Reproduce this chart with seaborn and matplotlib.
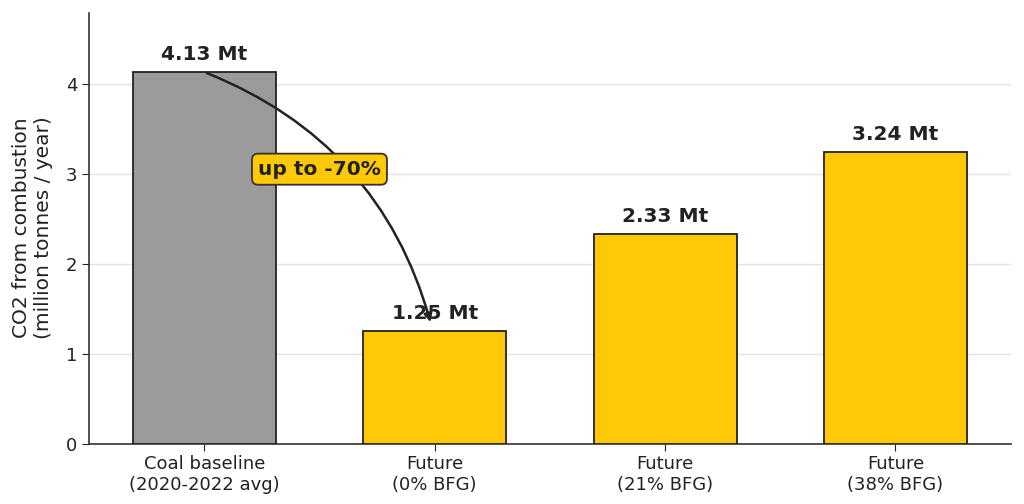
import matplotlib
matplotlib.use("Agg")
import matplotlib.pyplot as plt
import seaborn as sns
import pandas as pd

# scenario data
scenarios = ["Coal baseline\n(2020-2022 avg)", "Future\n(0% BFG)", "Future\n(21% BFG)", "Future\n(38% BFG)"]
co2_mt = [4.13, 1.25, 2.33, 3.24]
bar_colors = ["#9b9b9b", "#ffc907", "#ffc907", "#ffc907"]
reduction_label = "up to -70%"

df = pd.DataFrame({"scenario": scenarios, "co2": co2_mt})

sns.set_style("ticks")
plt.rcParams["font.family"] = ["DejaVu Sans"]
fig, ax = plt.subplots(figsize=(10.24, 5.04), dpi=100)

sns.barplot(data=df, x="scenario", y="co2", hue="scenario", palette=bar_colors,
            saturation=1, width=0.62, edgecolor="#222222", linewidth=1.3,
            legend=False, ax=ax, zorder=3)

ax.yaxis.grid(True, color="#e3e3e3", linewidth=1, zorder=0)
ax.set_axisbelow(True)
sns.despine(ax=ax)
for s in ["left", "bottom"]:
    ax.spines[s].set_color("#333333")
    ax.spines[s].set_linewidth(1.2)

for i, v in enumerate(co2_mt):
    ax.text(i, v + 0.09, f"{v:.2f} Mt", ha="center", va="bottom",
            fontsize=14.5, fontweight="bold", color="#222222")

ax.set_xlim(-0.5, 3.5)
ax.set_ylim(0, max(co2_mt) * 1.16)
ax.set_yticks([0, 1, 2, 3, 4])
ax.set_xlabel("")
ax.set_ylabel("CO2 from combustion\n(million tonnes / year)", fontsize=14.5,
              color="#222222", labelpad=9)
ax.tick_params(axis="both", labelsize=13, colors="#222222", length=5)

# curved arrow from baseline to the 0% BFG bar
ax.annotate("", xy=(0.985, co2_mt[1] + 0.07), xytext=(0.0, co2_mt[0]),
            arrowprops=dict(arrowstyle="-|>", color="#222222", lw=1.8,
                            connectionstyle="arc3,rad=-0.25", mutation_scale=12),
            zorder=5)
ax.text(0.5, 3.05, reduction_label, ha="center", va="center", fontsize=14.5,
        fontweight="bold", color="#222222", zorder=6,
        bbox=dict(boxstyle="round,pad=0.3", fc="#ffc907", ec="#333333", lw=1.3))

plt.subplots_adjust(left=0.087, right=0.987, top=0.975, bottom=0.12)
plt.savefig("out.png", dpi=100)
